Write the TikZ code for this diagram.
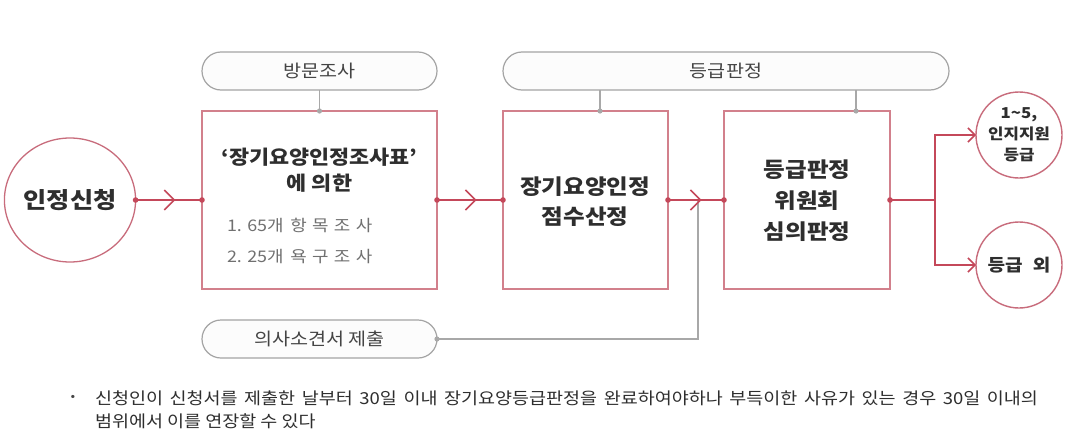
\documentclass[tikz,border=0pt]{standalone}
\usepackage{fontspec}
\setmainfont{Noto Sans CJK KR}[FakeStretch=1.12]
\usetikzlibrary{arrows.meta,shapes.geometric,shapes.misc,decorations.markings,calc}
\definecolor{rl}{HTML}{C4485A}
\definecolor{bx}{HTML}{D2808C}
\definecolor{cr}{HTML}{C86C7C}
\definecolor{gl}{HTML}{A8A8A8}
\definecolor{pl}{HTML}{A4A4A4}
\definecolor{plf}{HTML}{FCFCFC}
\definecolor{txt}{HTML}{2E2E2E}
\definecolor{ptx}{HTML}{444444}
\definecolor{itx}{HTML}{707070}
\tikzset{chev/.tip={Straight Barb[length=10pt,width=20pt,line width=1.6pt]},
         endchev/.tip={Straight Barb[length=7pt,width=14pt,line width=1.5pt]}}
\begin{document}
\begin{tikzpicture}[x=1pt,y=-1pt,
  every node/.style={inner sep=0pt, outer sep=0pt, align=center, text=txt},
  stepbox/.style={draw=bx, line width=1.4pt, fill=white, minimum height=178pt},
  pill/.style={rounded rectangle, draw=pl, line width=1.2pt, fill=plf, minimum height=38pt, font=\fontsize{17.5}{20}\selectfont, text=ptx},
  outc/.style={circle, draw=cr, line width=1.4pt, fill=white, minimum size=86pt},
  title/.style={font=\fontsize{21}{30}\selectfont\bfseries},
  item/.style={anchor=west, font=\fontsize{16}{18}\selectfont, text=itx},
  redarrow/.style={draw=rl, line width=1.5pt, postaction={decorate},
    decoration={markings, mark=at position 0.6 with {\arrow{chev}}}},
  redline/.style={draw=rl, line width=1.5pt},
  gline/.style={draw=gl, line width=1.3pt},
  rdot/.style={fill=rl},
  gdot/.style={fill=gl}
]
\useasboundingbox[fill=white] (0,0) rectangle (1090,442);

% pills
\node[pill, minimum width=235pt] (p1) at (319.5,71) {방문조사};
\node[pill, minimum width=446pt] (p2) at (726,71) {등급판정};
\node[pill, minimum width=235pt] (p3) at (319.5,339) {의사소견서 제출};

% main nodes
\node[ellipse, draw=cr, line width=1.3pt, fill=white, minimum width=116pt, minimum height=124pt,
      font=\fontsize{22.5}{28}\selectfont\bfseries] (c0) at (70,200) {인정신청};
\node[stepbox, minimum width=235pt] (b1) at (319.5,200) {};
\node[stepbox, minimum width=165pt] (b2) at (585.5,200) {};
\node[stepbox, minimum width=166pt] (b3) at (807,200) {};
\node[outc, font=\fontsize{15}{21}\selectfont\bfseries] (o1) at (1019,135) {1\textasciitilde5,\\인지지원\\등급};
\node[outc, font=\fontsize{17}{19}\selectfont\bfseries] (o2) at (1019,265) {등급\hspace{0.6em}외};

% texts inside boxes
\node[title, font=\fontsize{19.5}{26}\selectfont\bfseries] (t1) at (319.5,170) {‘장기요양인정조사표’\\에 의한};
\node[item] (i1) at (227,225) {1. 65개 \,항\,\,목\,\,조\,\,사};
\node[item] (i2) at (227,257) {2. 25개 \,욕\,\,구\,\,조\,\,사};
\node[title] (t2) at (585,202) {장기요양인정\\점수산정};
\node[title, font=\fontsize{21}{31}\selectfont\bfseries] (t3) at (807,201) {등급판정\\위원회\\심의판정};

% gray connectors from pills
\coordinate (q1) at (319.5,111);
\coordinate (q2) at (600,111);
\coordinate (q3) at (856,111);
\draw[gline] (p1.south) -- (q1);
\draw[gline] (q2 |- p2.south) -- (q2);
\draw[gline] (q3 |- p2.south) -- (q3);
\fill[gdot] (q1) circle[radius=2.6pt];
\fill[gdot] (q2) circle[radius=2.6pt];
\fill[gdot] (q3) circle[radius=2.6pt];

% merge from 의사소견서
\coordinate (m) at (698,200);
\draw[gline] (p3.east) -| (m);
\fill[gdot] (p3.east) circle[radius=2.6pt];

% red main flow
\draw[redarrow] (c0.east) -- (b1.west);
\draw[redarrow] (b1.east) -- (b2.west);
\draw[redarrow] (b2.east) -- (b3.west);
\coordinate (br) at (935,200);
\draw[redline] (b3.east) -- (br);
\draw[redline, -{endchev}] (br) |- (o1.west);
\draw[redline, -{endchev}] (br) |- (o2.west);
\foreach \p in {c0.east,b1.west,b1.east,b2.west,b2.east,b3.west,b3.east}
  \fill[rdot] (\p) circle[radius=2.8pt];

% note
\node[anchor=center, font=\fontsize{12}{16}\selectfont, text=ptx] (bul) at (73,398) {•};
\node[anchor=west, font=\fontsize{16.5}{20}\selectfont, text=txt] (n1) at (95,398)
  {\makebox[943pt][s]{신청인이 신청서를 제출한 날부터 30일 이내 장기요양등급판정을 완료하여야하나 부득이한 사유가 있는 경우 30일 이내의}};
\node[anchor=west, font=\fontsize{16.5}{20}\selectfont, text=txt] (n2) at (95,421)
  {범위에서 이를 연장할 수 있다};
\end{tikzpicture}
\end{document}
